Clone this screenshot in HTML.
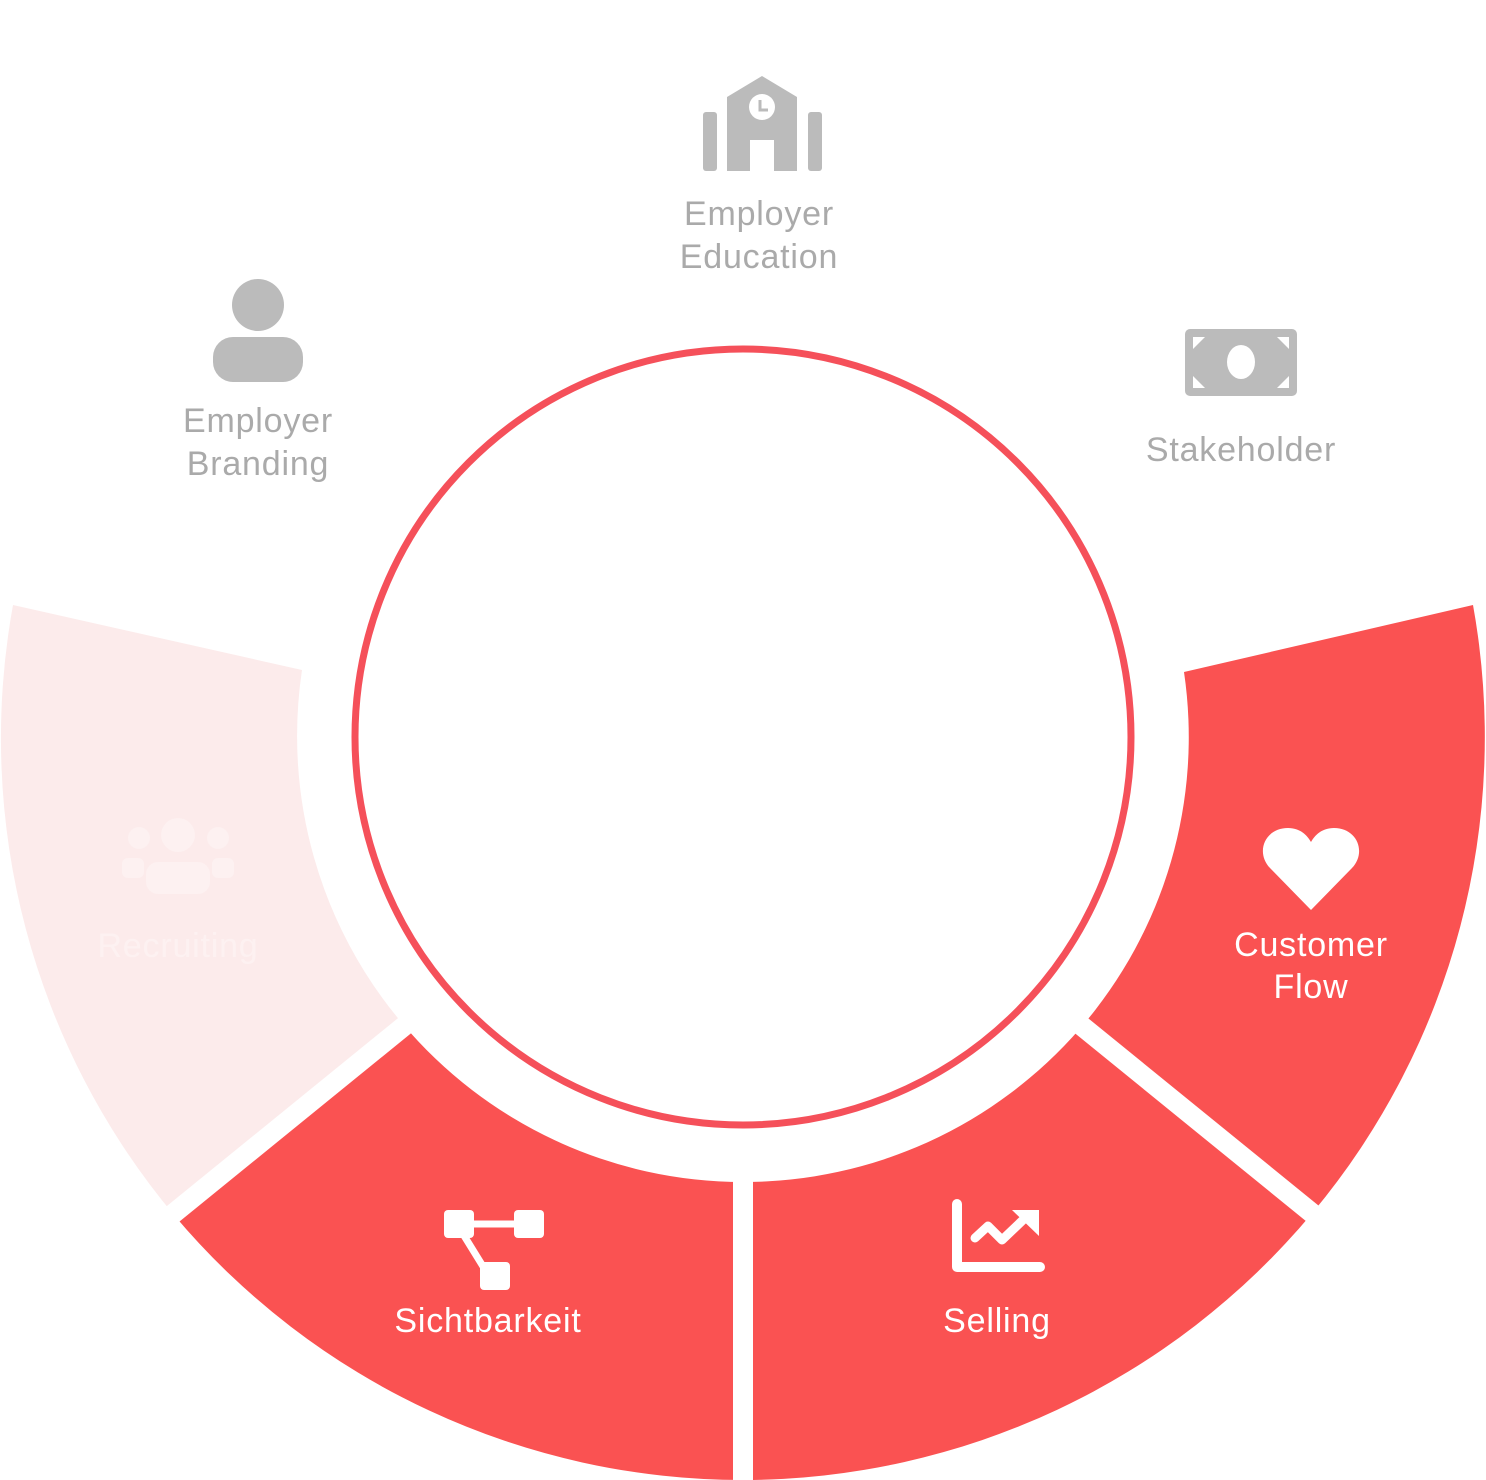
<!DOCTYPE html>
<html><head><meta charset="utf-8"><style>
html,body{margin:0;padding:0;background:#fff;}
svg{display:block;}
text{font-family:"Liberation Sans","DejaVu Sans",sans-serif;font-size:34px;letter-spacing:0.8px;text-anchor:middle;}
</style></head><body>
<svg width="1486" height="1480" viewBox="0 0 1486 1480">
<path d="M1473 605 A743 743 0 0 1 743 1480 L743 1182 A445 445 0 0 0 1184 672 Z" fill="#fa5252"/>
<path d="M743 1480 A743 743 0 0 1 174 1215 L402 1023 A445 445 0 0 0 743 1182 Z" fill="#fa5252"/>
<path d="M174 1215 A743 743 0 0 1 13 605 L302 670 A445 445 0 0 0 402 1023 Z" fill="#fcebeb"/>
<g stroke="#fff" stroke-width="20">
<line x1="743" y1="1170" x2="743" y2="1490"/>
<line x1="1072" y1="1018" x2="1318" y2="1218"/>
<line x1="414" y1="1018" x2="168" y2="1218"/>
</g>
<circle cx="743" cy="737" r="388" fill="#fff" stroke="#f5505a" stroke-width="7"/>

<g fill="#bbb">
<path d="M727 97 L762 76 L797 97 L797 171 L774 171 L774 140 L750 140 L750 171 L727 171 Z"/>
<rect x="703" y="112" width="14" height="59" rx="3"/>
<rect x="808" y="112" width="14" height="59" rx="3"/>
</g>
<circle cx="762" cy="107" r="13" fill="#fff"/>
<path d="M760 100 L760 110 L768 110" stroke="#bbb" stroke-width="3" fill="none"/>
<text x="759" y="225" fill="#aaa">Employer</text>
<text x="759" y="268" fill="#aaa">Education</text>

<circle cx="258" cy="305" r="26" fill="#bbb"/>
<rect x="213" y="337" width="90" height="45" rx="20" fill="#bbb"/>
<text x="258" y="432" fill="#aaa">Employer</text>
<text x="258" y="475" fill="#aaa">Branding</text>

<rect x="1185" y="329" width="112" height="67" rx="5" fill="#bbb"/>
<ellipse cx="1241" cy="362" rx="14" ry="17" fill="#fff"/>
<g fill="#fff">
<path d="M1193 337 L1205 337 L1193 349 Z"/>
<path d="M1289 337 L1277 337 L1289 349 Z"/>
<path d="M1193 388 L1205 388 L1193 376 Z"/>
<path d="M1289 388 L1277 388 L1289 376 Z"/>
</g>
<text x="1241" y="461" fill="#aaa">Stakeholder</text>

<g fill="#fdf1f1">
<circle cx="178" cy="835" r="17"/>
<circle cx="139" cy="838" r="11"/>
<circle cx="218" cy="838" r="11"/>
<rect x="146" y="862" width="64" height="32" rx="12"/>
<rect x="122" y="858" width="22" height="20" rx="6"/>
<rect x="212" y="858" width="22" height="20" rx="6"/>
</g>
<text x="178" y="957" fill="#fdf1f1">Recruiting</text>

<path d="M1311 910 L1270 868 C1255 852 1265 828 1288 828 C1300 828 1307 835 1311 842 C1315 835 1322 828 1334 828 C1357 828 1367 852 1352 868 Z" fill="#fff"/>
<text x="1311" y="956" fill="#fff">Customer</text>
<text x="1311" y="998" fill="#fff">Flow</text>

<g fill="#fff">
<rect x="444" y="1210" width="30" height="28" rx="4"/>
<rect x="514" y="1210" width="30" height="28" rx="4"/>
<rect x="480" y="1262" width="30" height="28" rx="4"/>
</g>
<path d="M470 1224 L516 1224 M463 1234 L484 1268" stroke="#fff" stroke-width="7"/>
<text x="488" y="1332" fill="#fff">Sichtbarkeit</text>

<path d="M957 1204 L957 1267 L1040 1267" stroke="#fff" stroke-width="10" fill="none" stroke-linecap="round" stroke-linejoin="round"/>
<path d="M975 1238 L988 1226 L1002 1240 L1024 1219" stroke="#fff" stroke-width="9" fill="none" stroke-linecap="round" stroke-linejoin="round"/>
<path d="M1012 1210 L1039 1210 L1039 1236 Z" fill="#fff"/>
<text x="997" y="1332" fill="#fff">Selling</text>
</svg>
</body></html>
